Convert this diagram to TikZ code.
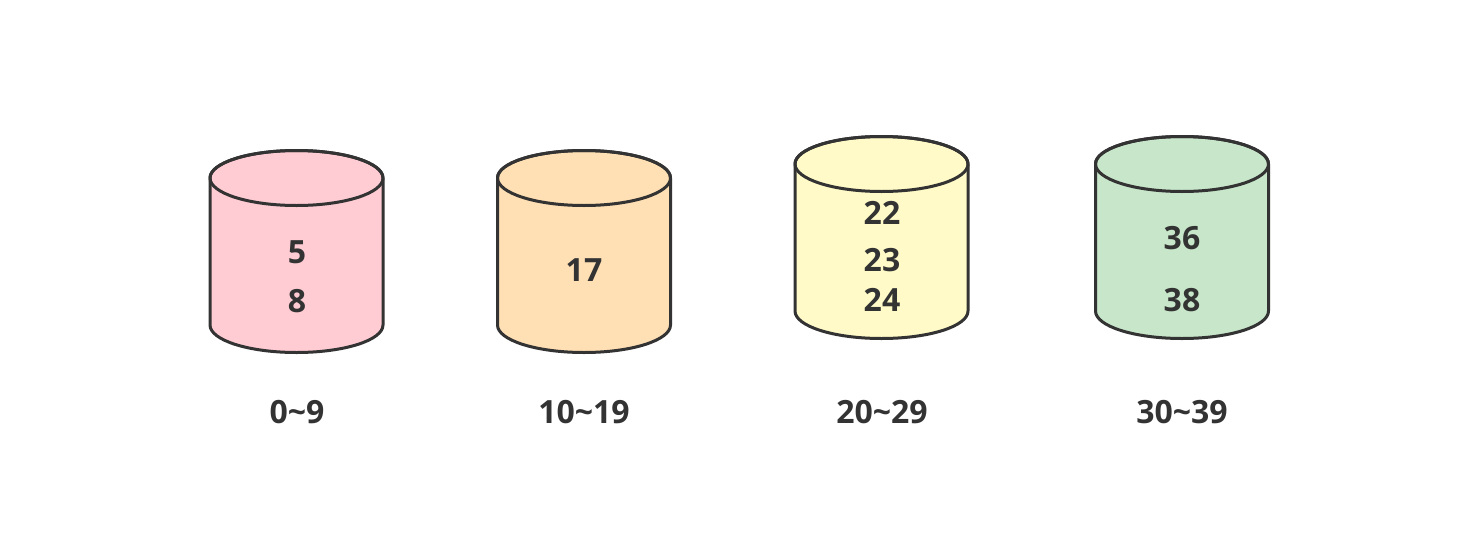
\documentclass[tikz,border=0pt]{standalone}
\usepackage{fontspec}
\setmainfont{Open Sans}
\definecolor{edge}{HTML}{333333}
\definecolor{cpink}{HTML}{FFCCD4}
\definecolor{corange}{HTML}{FFE0B4}
\definecolor{cyellow}{HTML}{FFFAC8}
\definecolor{cgreen}{HTML}{C8E6CA}
\newcommand{\drawcyl}[4]{%
  \filldraw[cylline, fill=#4] (#1-86.5,-#2) -- (#1-86.5,-#3)
    arc[start angle=180,end angle=360,x radius=86.5,y radius=27.5]
    -- (#1+86.5,-#2)
    arc[start angle=0,end angle=180,x radius=86.5,y radius=27.5] -- cycle;
  \draw[cylline] (#1,-#2) ellipse[x radius=86.5,y radius=27.5];
}
\begin{document}
\begin{tikzpicture}[x=1pt,y=1pt,
  cylline/.style={draw=edge,line width=3pt,line join=round},
  num/.style={text=edge,font=\fontsize{32}{34}\selectfont\bfseries,inner sep=0pt}]
\useasboundingbox[fill=white] (0,0) rectangle (1473,-541);
\drawcyl{296.5}{178}{325}{cpink}
\drawcyl{584}{178}{325}{corange}
\drawcyl{881.5}{164}{311}{cyellow}
\drawcyl{1182}{164}{311}{cgreen}
\node[num] (n5) at (297,-252) {5};
\node[num] (n8) at (297,-301) {8};
\node[num] (n17) at (584,-270) {17};
\node[num] (n22) at (882,-213) {22};
\node[num] (n23) at (882,-260) {23};
\node[num] (n24) at (882,-300) {24};
\node[num] (n36) at (1182,-238) {36};
\node[num] (n38) at (1182,-300) {38};
\node[num] (l1) at (297,-412) {0\textasciitilde9};
\node[num] (l2) at (584,-412) {10\textasciitilde19};
\node[num] (l3) at (882,-412) {20\textasciitilde29};
\node[num] (l4) at (1182,-412) {30\textasciitilde39};
\end{tikzpicture}
\end{document}
